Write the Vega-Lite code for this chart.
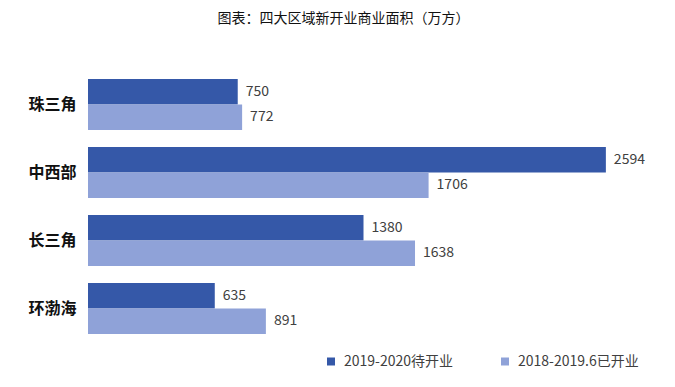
{
  "$schema": "https://vega.github.io/schema/vega-lite/v6.json",
  "autosize": "none",
  "width": 559,
  "height": 272,
  "padding": {"left": 88, "top": 70.5, "right": 28, "bottom": 44.5},
  "background": "white",
  "config": {
    "font": "Noto Sans CJK SC",
    "view": {"stroke": null}
  },
  "title": {
    "text": "图表：四大区域新开业商业面积（万方）",
    "fontSize": 14,
    "fontWeight": "normal",
    "color": "#111111",
    "anchor": "middle",
    "dx": -24,
    "offset": 45
  },
  "data": {
    "values": [
      {"region": "珠三角", "series": "2019-2020待开业", "value": 750},
      {"region": "珠三角", "series": "2018-2019.6已开业", "value": 772},
      {"region": "中西部", "series": "2019-2020待开业", "value": 2594},
      {"region": "中西部", "series": "2018-2019.6已开业", "value": 1706},
      {"region": "长三角", "series": "2019-2020待开业", "value": 1380},
      {"region": "长三角", "series": "2018-2019.6已开业", "value": 1638},
      {"region": "环渤海", "series": "2019-2020待开业", "value": 635},
      {"region": "环渤海", "series": "2018-2019.6已开业", "value": 891}
    ]
  },
  "encoding": {
    "y": {
      "field": "region",
      "type": "nominal",
      "sort": ["珠三角", "中西部", "长三角", "环渤海"],
      "scale": {"paddingInner": 0.25, "paddingOuter": 0.125},
      "axis": {
        "title": null,
        "domain": false,
        "ticks": false,
        "labelFontSize": 16,
        "labelFontWeight": "bold",
        "labelColor": "#111111",
        "labelPadding": 12
      }
    },
    "yOffset": {
      "field": "series",
      "type": "nominal",
      "sort": ["2019-2020待开业", "2018-2019.6已开业"],
      "scale": {"paddingInner": 0, "paddingOuter": 0}
    },
    "x": {
      "field": "value",
      "type": "quantitative",
      "scale": {"domain": [0, 2800], "nice": false},
      "axis": null
    }
  },
  "layer": [
    {
      "mark": {"type": "bar"},
      "encoding": {
        "color": {
          "field": "series",
          "type": "nominal",
          "sort": ["2019-2020待开业", "2018-2019.6已开业"],
          "scale": {"domain": ["2019-2020待开业", "2018-2019.6已开业"], "range": ["#3558a8", "#8fa2d8"]},
          "legend": {
            "title": null,
            "orient": "none",
            "legendX": 236,
            "legendY": 284,
            "direction": "horizontal",
            "columns": 2,
            "columnPadding": 44,
            "symbolType": "square",
            "symbolSize": 64,
            "symbolStrokeWidth": 0,
            "labelFontSize": 14,
            "labelColor": "#404040",
            "labelOffset": 6
          }
        }
      }
    },
    {
      "mark": {"type": "text", "align": "left", "baseline": "middle", "dx": 8, "fontSize": 14, "color": "#404040"},
      "encoding": {
        "text": {"field": "value", "type": "quantitative"}
      }
    }
  ]
}
